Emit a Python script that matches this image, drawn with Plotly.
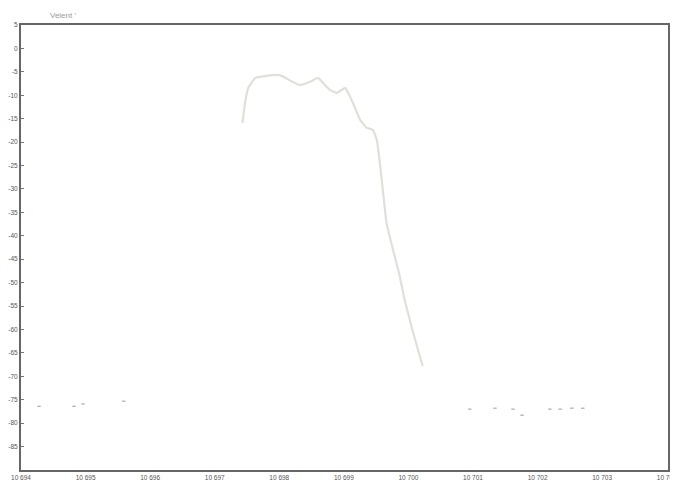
import plotly.graph_objects as go

# Main trace (frequency vs level)
freq = [10697.43, 10697.47, 10697.52, 10697.63, 10697.78, 10698.01, 10698.20, 10698.32,
        10698.48, 10698.60, 10698.68, 10698.78, 10698.89, 10699.02, 10699.06, 10699.14,
        10699.25, 10699.35, 10699.45, 10699.51, 10699.56, 10699.62, 10699.66, 10699.76,
        10699.86, 10699.94, 10700.06, 10700.22]
level = [-15.9, -11.6, -8.4, -6.3, -5.9, -5.7, -7.1, -7.8,
         -7.1, -6.3, -7.4, -8.8, -9.5, -8.4, -9.3, -11.6,
         -15.2, -16.9, -17.4, -19.5, -24.8, -32.3, -37.2, -42.9,
         -48.3, -53.6, -60.0, -67.8]

# Faded noise-floor remnants
noise_freq = [10694.28, 10694.82, 10694.96, 10695.59, 10700.95, 10701.34, 10701.62,
              10701.76, 10702.19, 10702.35, 10702.53, 10702.70]
noise_level = [-76.4, -76.4, -75.9, -75.3, -77.0, -76.8, -77.0,
               -78.3, -77.0, -77.0, -76.8, -76.8]

x_ticks = [10694, 10695, 10696, 10697, 10698, 10699, 10700, 10701, 10702, 10703, 10704]
x_labels = ["10 694", "10 695", "10 696", "10 697", "10 698", "10 699", "10 700",
            "10 701", "10 702", "10 703", "10 704"]
y_ticks = [5, 0, -5, -10, -15, -20, -25, -30, -35, -40, -45, -50, -55, -60, -65, -70, -75, -80, -85]
y_labels = ["5", "0", "-5", "-10", "-15", "-20", "-25", "-30", "-35", "-40", "-45",
            "-50", "-55", "-60", "-65", "-70", "-75", "-80", "-85"]

fig = go.Figure()
fig.add_trace(go.Scatter(x=freq, y=level, mode="lines",
                         line=dict(color="#e0e0d8", width=2.2, shape="spline", smoothing=0.4),
                         showlegend=False))
fig.add_trace(go.Scatter(x=noise_freq, y=noise_level, mode="markers",
                         marker=dict(color="#9a9a9a", size=2.5, symbol="line-ew-open",
                                     line=dict(color="#9a9a9a", width=1)),
                         showlegend=False))

fig.update_layout(
    width=670, height=481,
    margin=dict(l=13, r=10, t=17, b=19),
    paper_bgcolor="white", plot_bgcolor="white",
    font=dict(family="Liberation Sans", size=7, color="#555555"),
    annotations=[dict(text="Velent '", xref="paper", yref="paper", x=0.065, y=1.0,
                      xanchor="center", yanchor="bottom", yshift=3, showarrow=False,
                      font=dict(size=8, color="#999999"))],
)
fig.update_xaxes(range=[10694, 10704.02], tickvals=x_ticks, ticktext=x_labels, automargin=False,
                 showgrid=False, zeroline=False, showline=True, linecolor="#666666",
                 linewidth=2, mirror=True, ticks="", tickfont=dict(size=6.5, color="#555555"))
fig.update_yaxes(range=[-90, 5], tickvals=y_ticks, ticktext=y_labels, showgrid=False,
                 zeroline=False, automargin=False,
                 showline=True, linecolor="#666666", linewidth=2, mirror=True,
                 ticks="inside", ticklen=3, tickcolor="#777777",
                 tickfont=dict(size=6.5, color="#555555"))

fig.write_html("out.html")
